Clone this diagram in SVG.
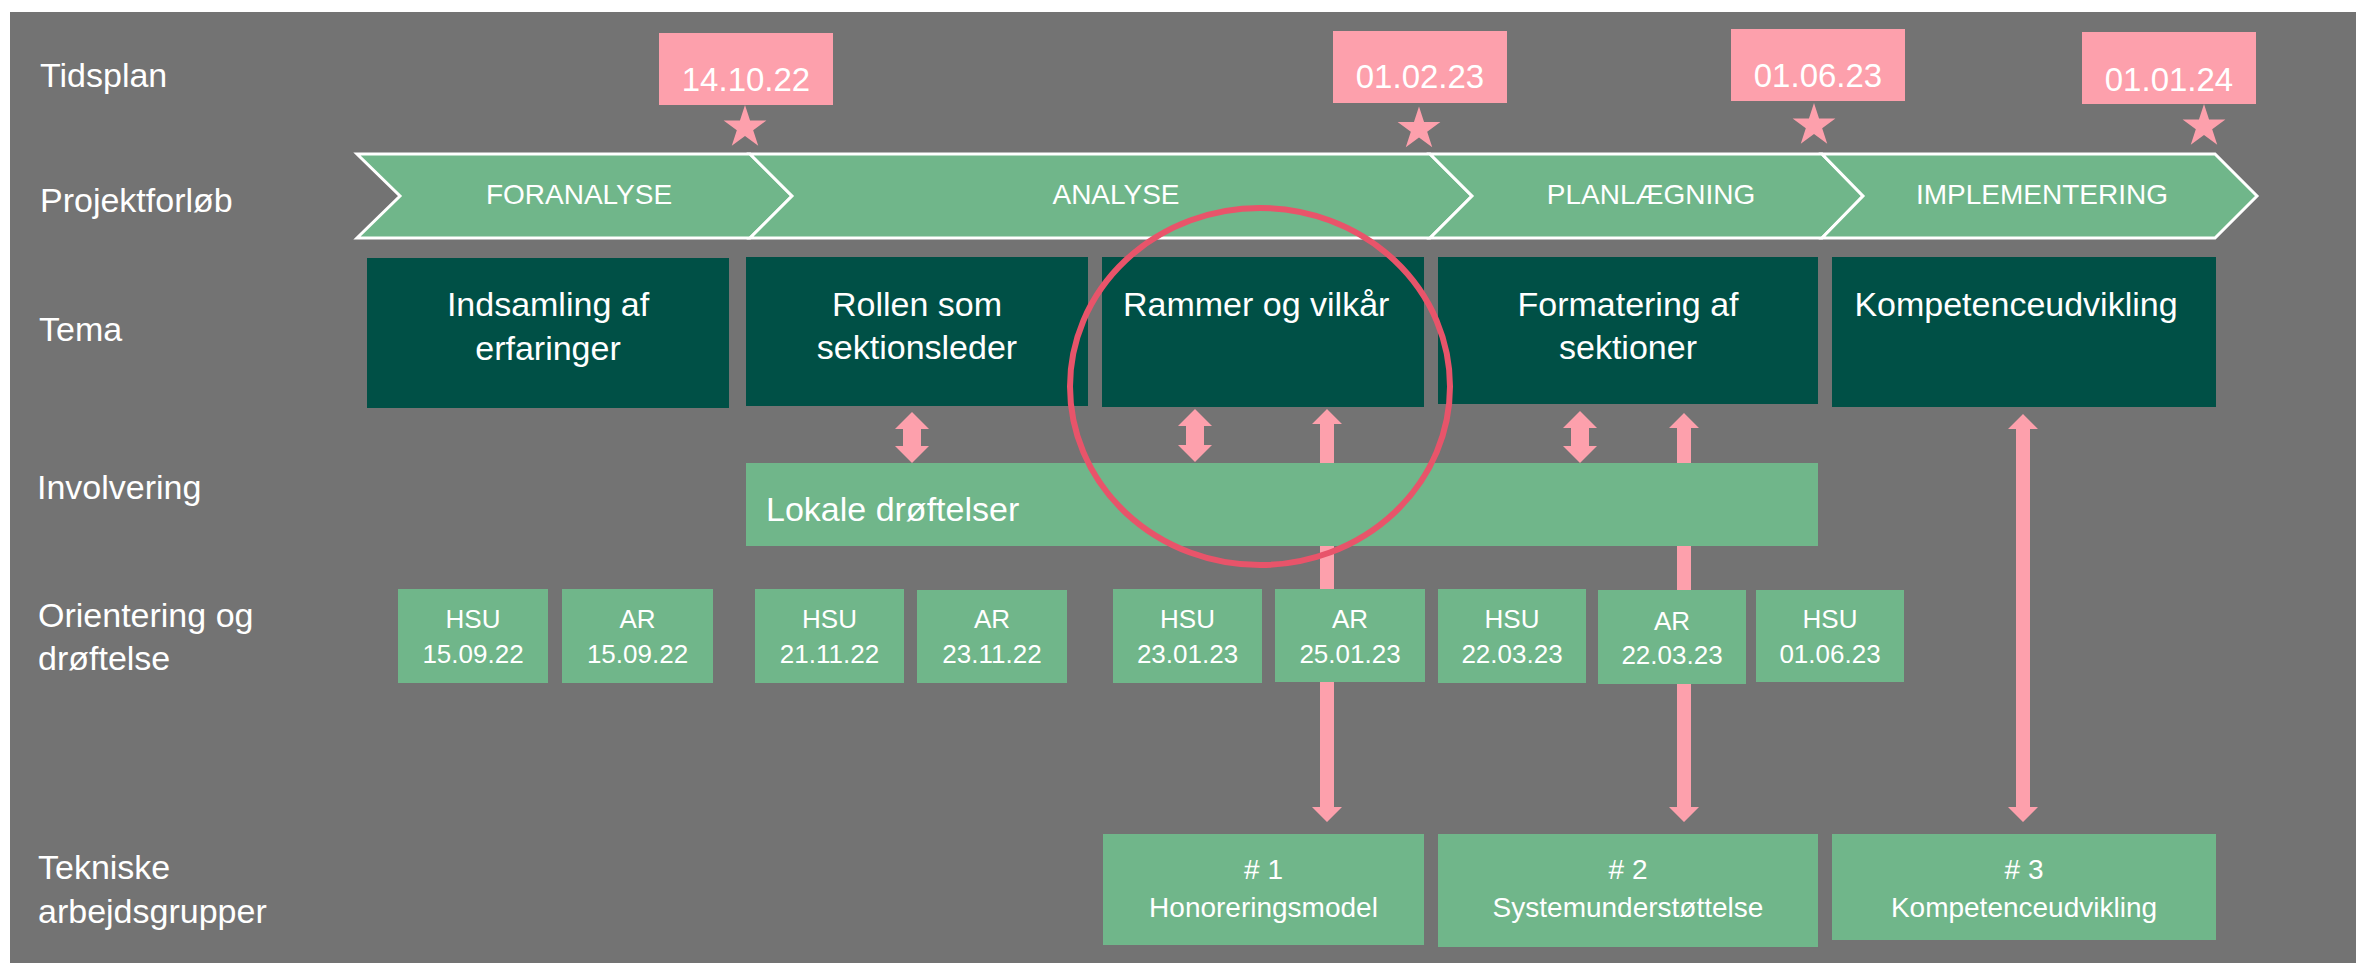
<svg xmlns="http://www.w3.org/2000/svg" width="2356" height="963" viewBox="0 0 2356 963">
<style>
text{font-family:"Liberation Sans",Arial,sans-serif;fill:#ffffff}
.lbl{font-size:34px}
.chev{fill:#70b68a;stroke:#ffffff;stroke-width:3;stroke-linejoin:miter}
.chevt{font-size:28px;text-anchor:middle}
.date{fill:#fda0ac}
.datet{font-size:33px;text-anchor:middle}
.star{fill:#fda0ac}
.theme{fill:#005046}
.themet{font-size:34px;text-anchor:middle}
.green{fill:#70b68a}
.smt{font-size:26px;text-anchor:middle}
.grpt{font-size:28px;text-anchor:middle}
.arr{fill:#fda0ac}
</style>
<defs>
<path id="star" d="M0,-22.5 L5.05,-6.96 L21.4,-6.95 L8.18,2.66 L13.23,18.2 L0,8.6 L-13.23,18.2 L-8.18,2.66 L-21.4,-6.95 L-5.05,-6.96 Z"/>
</defs>
<rect x="0" y="0" width="2356" height="963" fill="#ffffff"/>
<rect x="10" y="12" width="2346" height="951" fill="#737373"/>

<g id="labels">
<text class="lbl" x="40" y="87">Tidsplan</text>
<text class="lbl" x="40" y="212">Projektforløb</text>
<text class="lbl" x="39" y="341">Tema</text>
<text class="lbl" x="37" y="499">Involvering</text>
<text class="lbl" x="38" y="627">Orientering og</text>
<text class="lbl" x="38" y="670">drøftelse</text>
<text class="lbl" x="38" y="879">Tekniske</text>
<text class="lbl" x="38" y="923">arbejdsgrupper</text>
</g>

<g id="phases">
<g id="phase-foranalyse"><path class="chev" d="M357,154 L750,154 L792,196 L750,238 L357,238 L400,196 Z"/><text class="chevt" x="579" y="204">FORANALYSE</text></g>
<g id="phase-analyse"><path class="chev" d="M750,154 L1430,154 L1472,196 L1430,238 L750,238 L792,196 Z"/><text class="chevt" x="1116" y="204">ANALYSE</text></g>
<g id="phase-planlaegning"><path class="chev" d="M1430,154 L1822,154 L1863,196 L1822,238 L1430,238 L1472,196 Z"/><text class="chevt" x="1651" y="204">PLANLÆGNING</text></g>
<g id="phase-implementering"><path class="chev" d="M1822,154 L2215,154 L2257,196 L2215,238 L1822,238 L1863,196 Z"/><text class="chevt" x="2042" y="204">IMPLEMENTERING</text></g>
</g>

<g id="milestones">
<g id="ms1"><rect class="date" x="659" y="33" width="174" height="72"/><text class="datet" x="746" y="91">14.10.22</text><use href="#star" class="star" x="745" y="127.5"/></g>
<g id="ms2"><rect class="date" x="1333" y="31" width="174" height="72"/><text class="datet" x="1420" y="88">01.02.23</text><use href="#star" class="star" x="1419" y="129"/></g>
<g id="ms3"><rect class="date" x="1731" y="29" width="174" height="72"/><text class="datet" x="1818" y="87">01.06.23</text><use href="#star" class="star" x="1814" y="125.5"/></g>
<g id="ms4"><rect class="date" x="2082" y="32" width="174" height="72"/><text class="datet" x="2169" y="91">01.01.24</text><use href="#star" class="star" x="2204" y="126.5"/></g>
</g>

<g id="connectors">
<path class="arr" d="M912,412 L929,429 L921,429 L921,446 L929,446 L912,463 L895,446 L903,446 L903,429 L895,429 Z"/>
<path class="arr" d="M1195,409 L1212,426 L1204,426 L1204,445 L1212,445 L1195,462 L1178,445 L1186,445 L1186,426 L1178,426 Z"/>
<path class="arr" d="M1580,411 L1597,428 L1589,428 L1589,446 L1597,446 L1580,463 L1563,446 L1571,446 L1571,428 L1563,428 Z"/>
<path class="arr" d="M1327,409 L1342,424 L1334,424 L1334,807 L1342,807 L1327,822 L1312,807 L1320,807 L1320,424 L1312,424 Z"/>
<path class="arr" d="M1684,413 L1699,428 L1691,428 L1691,807 L1699,807 L1684,822 L1669,807 L1677,807 L1677,428 L1669,428 Z"/>
<path class="arr" d="M2023,414 L2038,429 L2030,429 L2030,807 L2038,807 L2023,822 L2008,807 L2016,807 L2016,429 L2008,429 Z"/>
</g>

<g id="themes">
<g id="theme1"><rect class="theme" x="367" y="258" width="362" height="150"/><text class="themet" x="548" y="316">Indsamling af</text><text class="themet" x="548" y="360">erfaringer</text></g>
<g id="theme2"><rect class="theme" x="746" y="257" width="342" height="149"/><text class="themet" x="917" y="316">Rollen som</text><text class="themet" x="917" y="359">sektionsleder</text></g>
<g id="theme3"><rect class="theme" x="1102" y="257" width="322" height="150"/><text class="themet" x="1123" y="316" style="text-anchor:start">Rammer og vilkår</text></g>
<g id="theme4"><rect class="theme" x="1438" y="257" width="380" height="147"/><text class="themet" x="1628" y="316">Formatering af</text><text class="themet" x="1628" y="359">sektioner</text></g>
<g id="theme5"><rect class="theme" x="1832" y="257" width="384" height="150"/><text class="themet" x="2016" y="316">Kompetenceudvikling</text></g>
</g>

<g id="involvering">
<rect class="green" x="746" y="463" width="1072" height="83"/>
<text class="lbl" x="766" y="521">Lokale drøftelser</text>
</g>

<g id="meetings">
<g id="m1"><rect class="green" x="398" y="589" width="150" height="94"/><text class="smt" x="473" y="628">HSU</text><text class="smt" x="473" y="663">15.09.22</text></g>
<g id="m2"><rect class="green" x="562" y="589" width="151" height="94"/><text class="smt" x="637.5" y="628">AR</text><text class="smt" x="637.5" y="663">15.09.22</text></g>
<g id="m3"><rect class="green" x="755" y="589" width="149" height="94"/><text class="smt" x="829.5" y="628">HSU</text><text class="smt" x="829.5" y="663">21.11.22</text></g>
<g id="m4"><rect class="green" x="917" y="590" width="150" height="93"/><text class="smt" x="992" y="628">AR</text><text class="smt" x="992" y="663">23.11.22</text></g>
<g id="m5"><rect class="green" x="1113" y="589" width="149" height="94"/><text class="smt" x="1187.5" y="628">HSU</text><text class="smt" x="1187.5" y="663">23.01.23</text></g>
<g id="m6"><rect class="green" x="1275" y="589" width="150" height="93"/><text class="smt" x="1350" y="628">AR</text><text class="smt" x="1350" y="663">25.01.23</text></g>
<g id="m7"><rect class="green" x="1438" y="589" width="148" height="94"/><text class="smt" x="1512" y="628">HSU</text><text class="smt" x="1512" y="663">22.03.23</text></g>
<g id="m8"><rect class="green" x="1598" y="590" width="148" height="94"/><text class="smt" x="1672" y="630">AR</text><text class="smt" x="1672" y="664">22.03.23</text></g>
<g id="m9"><rect class="green" x="1756" y="590" width="148" height="92"/><text class="smt" x="1830" y="628">HSU</text><text class="smt" x="1830" y="663">01.06.23</text></g>
</g>

<g id="groups">
<g id="g1"><rect class="green" x="1103" y="834" width="321" height="111"/><text class="grpt" x="1263.5" y="879"># 1</text><text class="grpt" x="1263.5" y="917">Honoreringsmodel</text></g>
<g id="g2"><rect class="green" x="1438" y="834" width="380" height="113"/><text class="grpt" x="1628" y="879"># 2</text><text class="grpt" x="1628" y="917">Systemunderstøttelse</text></g>
<g id="g3"><rect class="green" x="1832" y="834" width="384" height="106"/><text class="grpt" x="2024" y="879"># 3</text><text class="grpt" x="2024" y="917">Kompetenceudvikling</text></g>
</g>

<g id="highlight">
<ellipse cx="1260" cy="386.5" rx="190" ry="178.5" fill="none" stroke="#e8546a" stroke-width="6"/>
</g>
</svg>
